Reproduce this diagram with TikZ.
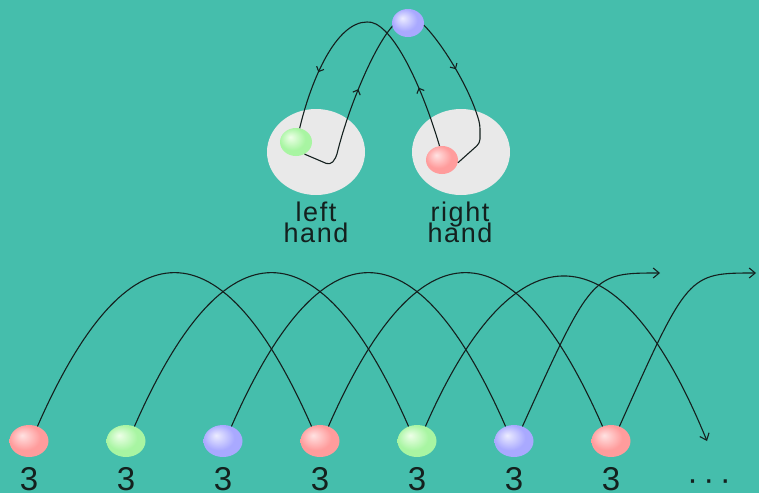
\documentclass[tikz,border=0pt]{standalone}
\usepackage{fontspec}
\setmainfont{Liberation Sans}
\usetikzlibrary{shapes.geometric,arrows.meta,decorations.markings}
\definecolor{bg}{HTML}{45BEAC}
\definecolor{hand}{HTML}{E9E9E9}
\definecolor{ink}{HTML}{14201E}
\definecolor{redhi}{HTML}{FFE2E2}
\definecolor{redbase}{HTML}{FF9C9C}
\definecolor{rededge}{HTML}{F28A8A}
\definecolor{greenhi}{HTML}{EEFFE8}
\definecolor{greenbase}{HTML}{A8F5A2}
\definecolor{greenedge}{HTML}{94E68E}
\definecolor{bluehi}{HTML}{ECECFF}
\definecolor{bluebase}{HTML}{A9A9FF}
\definecolor{blueedge}{HTML}{9696F0}
\pgfdeclareradialshading{redball}{\pgfpoint{-9bp}{9bp}}{color(0bp)=(redhi);color(20bp)=(redbase);color(42bp)=(redbase);color(50bp)=(rededge)}
\pgfdeclareradialshading{greenball}{\pgfpoint{-9bp}{9bp}}{color(0bp)=(greenhi);color(20bp)=(greenbase);color(42bp)=(greenbase);color(50bp)=(greenedge)}
\pgfdeclareradialshading{blueball}{\pgfpoint{-9bp}{9bp}}{color(0bp)=(bluehi);color(20bp)=(bluebase);color(42bp)=(bluebase);color(50bp)=(blueedge)}
\newcommand{\lblfont}{\fontsize{27}{21}\selectfont\addfontfeatures{LetterSpace=6}\lineskiplimit=-40pt\relax}
\tikzset{
  ballshape/.style={ellipse, inner sep=0pt, minimum width=39pt, minimum height=32pt, shade},
  smallball/.style={ellipse, inner sep=0pt, minimum width=32pt, minimum height=28pt, shade},
  redb/.style={shading=redball},
  greenb/.style={shading=greenball},
  blueb/.style={shading=blueball},
  handzone/.style={ellipse, fill=hand, draw=none, minimum width=98pt, minimum height=86pt, inner sep=0pt},
  throw/.style={draw=ink, line width=1.1pt},
  tip/.style={-{Straight Barb[length=6pt,width=10pt]}},
  num/.style={font=\fontsize{33}{33}\selectfont, text=ink, anchor=base, inner sep=0pt},
  lbl/.style={font=\lblfont, text=ink, align=center, anchor=south, inner sep=0pt},
  midmarks/.style 2 args={postaction={decorate}, decoration={markings,
     mark=at position #1 with {\arrow{Straight Barb[length=4pt,width=8pt]}},
     mark=at position #2 with {\arrow{Straight Barb[length=4pt,width=8pt]}}}}
}
\begin{document}
\begin{tikzpicture}[x=1pt,y=-1pt]
\useasboundingbox (0,0) rectangle (759,493);
\fill[bg] (0,0) rectangle (759,493);

% hands
\node[handzone] (lh) at (316,152) {};
\node[handzone] (rh) at (461,152) {};
\node[lbl] (lt) at (316,243) {left\\hand};
\node[lbl] (rt) at (460,243) {right\\hand};

% top balls
\node[smallball,greenb] (g) at (296,142) {};
\node[smallball,redb] (r) at (442,160) {};

% path A: right hand -> left hand
\draw[throw, midmarks={0.22}{0.79}] (r.100) .. controls (420,80) and (390,20) .. (367,22) .. controls (336,22) and (311,80) .. (g.75);
% path B: left hand scoop -> top -> right hand scoop
\draw[throw, rounded corners=4pt, midmarks={0.285}{0.715}] (g.-55) -- (330,165) -- (336,158) .. controls (350,100) and (385,20) .. (408,18) .. controls (425,17) and (468,80) .. (480,125) -- (480,143) -- (r.-10);

\node[smallball,blueb] (tb) at (408,23) {};

% bottom
\foreach \i/\x in {1/29,2/126,3/223,4/320,5/417,6/514,7/611}{
  \coordinate (p\i) at (\x,441);
}
\coordinate (e5) at (707,441);
\coordinate (e6) at (660,273);
\coordinate (e7) at (756,273);

\node[ballshape,redb]   (b1) at (p1) {};
\node[ballshape,greenb] (b2) at (p2) {};
\node[ballshape,blueb]  (b3) at (p3) {};
\node[ballshape,redb]   (b4) at (p4) {};
\node[ballshape,greenb] (b5) at (p5) {};
\node[ballshape,blueb]  (b6) at (p6) {};
\node[ballshape,redb]   (b7) at (p7) {};

\draw[throw] (b1.60) .. controls +(90,-205) and +(-90,-205) .. (b4.120);
\draw[throw] (b2.60) .. controls +(90,-205) and +(-90,-205) .. (b5.120);
\draw[throw] (b3.60) .. controls +(90,-205) and +(-90,-205) .. (b6.120);
\draw[throw] (b4.60) .. controls +(90,-205) and +(-90,-205) .. (b7.120);
\draw[throw,tip] (b5.60) .. controls +(90,-205) and +(-88,-215) .. (e5);
\draw[throw,tip] (b6.60) .. controls (592,273) .. (e6);
\draw[throw,tip] (b7.60) .. controls (688,273) .. (e7);

\foreach \i in {1,...,7}{
  \node[num] (n\i) at ([yshift=-49pt]p\i) {3};
}
\node[num] (dots) at (709,490) {·\,·\,·};
\end{tikzpicture}
\end{document}
